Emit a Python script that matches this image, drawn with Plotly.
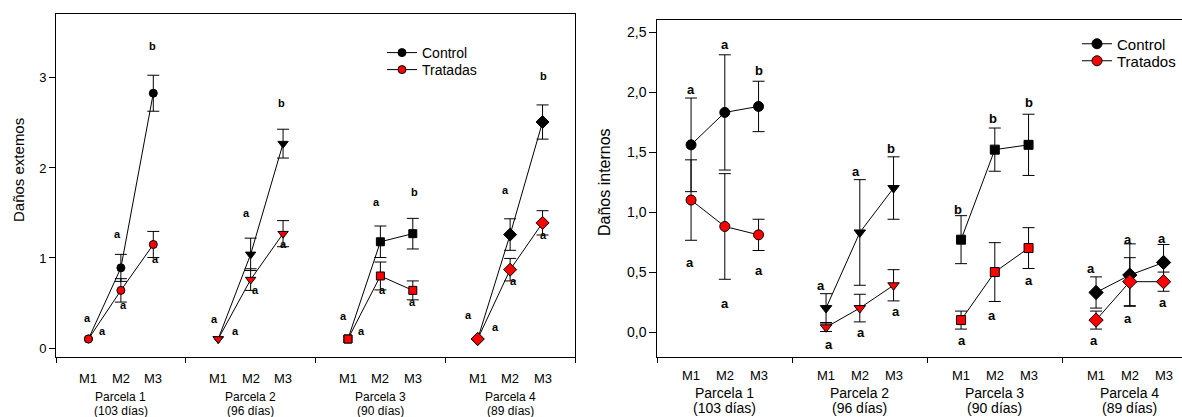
import numpy as np
import plotly.graph_objects as go

nan = np.nan

# ---------------- DATA ----------------
groups = ["Parcela 1", "Parcela 2", "Parcela 3", "Parcela 4"]
group_days = ["(103 días)", "(96 días)", "(90 días)", "(89 días)"]
samples = ["M1", "M2", "M3"]

# Left panel: Daños externos
ext_control = [[0.10, 0.89, 2.83], [0.10, 1.04, 2.27], [0.10, 1.18, 1.27], [0.10, 1.26, 2.51]]
ext_control_err = [[nan, 0.15, 0.20], [nan, 0.18, 0.16], [nan, 0.175, 0.17], [nan, 0.175, 0.19]]
ext_treated = [[0.10, 0.64, 1.15], [0.10, 0.76, 1.27], [0.10, 0.80, 0.64], [0.10, 0.87, 1.39]]
ext_treated_err = [[nan, 0.13, 0.145], [nan, 0.12, 0.145], [nan, 0.155, 0.105], [nan, 0.125, 0.135]]
ext_control_letters = [["a", "a", "b"], ["a", "a", "b"], ["a", "a", "b"], ["a", "a", "b"]]
ext_treated_letters = [["a", "a", "a"], ["a", "a", "a"], ["a", "a", "a"], ["a", "a", "a"]]

# Right panel: Daños internos
int_control = [[1.56, 1.83, 1.88], [0.20, 0.83, 1.20], [0.77, 1.52, 1.56], [0.33, 0.475, 0.58]]
int_control_err = [[0.39, 0.48, 0.21], [0.12, 0.44, 0.26], [0.20, 0.18, 0.255], [0.13, 0.26, 0.15]]
int_treated = [[1.10, 0.88, 0.81], [0.04, 0.20, 0.39], [0.10, 0.50, 0.70], [0.10, 0.42, 0.42]]
int_treated_err = [[0.335, 0.44, 0.13], [0.035, 0.115, 0.13], [0.075, 0.245, 0.17], [0.075, 0.20, 0.08]]
int_control_letters = [["a", "a", "b"], ["a", "a", "b"], ["b", "b", "b"], ["a", "a", "a"]]
int_treated_letters = [["a", "a", "a"], ["a", "a", "a"], ["a", "a", "a"], ["a", "a", "a"]]

left_yticks = [0, 1, 2, 3]
left_yticktext = ["0", "1", "2", "3"]
right_yticks = [0, 0.5, 1.0, 1.5, 2.0, 2.5]
right_yticktext = ["0,0", "0,5", "1,0", "1,5", "2,0", "2,5"]

# ---------------- LAYOUT CONSTANTS ----------------
W, H = 1182, 417
FONT = "Liberation Sans, Arial, sans-serif"
symbols = ["circle", "triangle-down", "square", "diamond"]
left_sizes = [8, 9, 8, 10]
right_sizes = [10, 10, 9, 11]
RED = "#ff0000"

# letter anchor points (data units) for annotations
ext_ctrl_lpos = [[(0.98, 0.33), (1.91, 1.27), (2.99, 3.36)], [(4.88, 0.32), (5.88, 1.50), (6.94, 2.72)],
                 [(8.86, 0.36), (9.89, 1.62), (11.04, 1.73)], [(12.73, 0.37), (13.85, 1.75), (15.02, 3.02)]]
ext_trt_lpos = [[(1.44, 0.19), (2.09, 0.48), (3.07, 0.99)], [(5.53, 0.19), (6.14, 0.64), (7.0, 1.16)],
                [(9.43, 0.19), (10.07, 0.64), (11.0, 0.51)], [(13.55, 0.23), (14.1, 0.74), (15.02, 1.25)]]
int_ctrl_lpos = [[(1.0, 2.02), (2.0, 2.40), (3.0, 2.18)], [(4.84, 0.39), (5.89, 1.34), (6.92, 1.53)],
                 [(8.92, 1.02), (9.96, 1.78), (11.01, 1.91)], [(12.85, 0.53), (13.94, 0.77), (14.96, 0.78)]]
int_trt_lpos = [[(0.97, 0.58), (2.0, 0.24), (3.0, 0.51)], [(5.10, -0.10), (6.04, 0.0), (7.07, 0.17)],
                [(9.04, -0.07), (9.93, 0.14), (11.01, 0.43)], [(12.95, -0.07), (13.96, 0.11), (14.99, 0.25)]]


def xpos(g):
    return [4 * g + 1 + i for i in range(len(samples))]


fig = go.Figure()


def add_series(values, errs, color, sizes, xa, ya, name, legend):
    for g in range(len(groups)):
        fig.add_trace(go.Scatter(
            x=xpos(g), y=values[g], mode="lines+markers",
            xaxis=xa, yaxis=ya,
            line=dict(color="black", width=1),
            marker=dict(symbol=symbols[g], size=sizes[g], color=color,
                        line=dict(color="black", width=1)),
            error_y=dict(type="data", array=np.array(errs[g], dtype=float), symmetric=True,
                         color="black", thickness=1, width=6),
            name=name, legend=legend, showlegend=(g == 0), hoverinfo="skip",
        ))


add_series(ext_control, ext_control_err, "black", left_sizes, "x", "y", "Control", "legend")
add_series(ext_treated, ext_treated_err, RED, left_sizes, "x", "y", "Tratadas", "legend2")
add_series(int_control, int_control_err, "black", right_sizes, "x2", "y2", "Control", "legend3")
add_series(int_treated, int_treated_err, RED, right_sizes, "x2", "y2", "Tratados", "legend4")

ann = []


def add_letters(letters, pos, xr, yr, size):
    for g in range(len(groups)):
        for i in range(len(samples)):
            x, y = pos[g][i]
            ann.append(dict(x=x, y=y, xref=xr, yref=yr, text="<b>%s</b>" % letters[g][i],
                            showarrow=False, font=dict(family=FONT, size=size, color="black"),
                            xanchor="center", yanchor="middle"))


add_letters(ext_control_letters, ext_ctrl_lpos, "x", "y", 11)
add_letters(ext_treated_letters, ext_trt_lpos, "x", "y", 11)
add_letters(int_control_letters, int_ctrl_lpos, "x2", "y2", 13)
add_letters(int_treated_letters, int_trt_lpos, "x2", "y2", 13)


def add_group_labels(xr, y_m, y_p, y_d, msize, psize):
    for g in range(len(groups)):
        for i, s in enumerate(samples):
            ann.append(dict(x=xpos(g)[i], y=(H - y_m) / H, xref=xr, yref="paper", text=s,
                            showarrow=False, font=dict(family=FONT, size=msize, color="black"),
                            xanchor="center", yanchor="middle"))
        ann.append(dict(x=xpos(g)[1], y=(H - y_p) / H, xref=xr, yref="paper", text=groups[g],
                        showarrow=False, font=dict(family=FONT, size=psize, color="black"),
                        xanchor="center", yanchor="middle"))
        ann.append(dict(x=xpos(g)[1], y=(H - y_d) / H, xref=xr, yref="paper", text=group_days[g],
                        showarrow=False, font=dict(family=FONT, size=psize, color="black"),
                        xanchor="center", yanchor="middle"))


add_group_labels("x", 378, 397, 410.5, 13, 12)
add_group_labels("x2", 375.5, 393, 407.5, 13, 14)

# y titles
ann.append(dict(x=18 / W, y=(H - 170) / H, xref="paper", yref="paper", text="Daños extemos",
                textangle=-90, showarrow=False, font=dict(family=FONT, size=15, color="black"),
                xanchor="center", yanchor="middle"))
ann.append(dict(x=605 / W, y=(H - 182) / H, xref="paper", yref="paper", text="Daños internos",
                textangle=-90, showarrow=False, font=dict(family=FONT, size=16, color="black"),
                xanchor="center", yanchor="middle"))

axis_common = dict(showgrid=False, zeroline=False, showline=True, linecolor="black", linewidth=1,
                   ticks="outside", tickcolor="black", tickwidth=1)


def leg(x_px, y_px, size):
    return dict(x=x_px / W, y=(H - y_px) / H, xanchor="left", yanchor="middle",
                bgcolor="rgba(0,0,0,0)", borderwidth=0,
                font=dict(family=FONT, size=size, color="black"))


fig.update_layout(
    width=W, height=H, margin=dict(l=0, r=0, t=0, b=0),
    paper_bgcolor="white", plot_bgcolor="white",
    font=dict(family=FONT, color="black"),
    annotations=ann,
    xaxis=dict(domain=[56 / W, 575 / W], range=[0, 16], tickvals=[0, 4, 8, 12, 16],
               showticklabels=False, ticklen=5, mirror=True, anchor="y", **axis_common),
    yaxis=dict(domain=[(H - 357) / H, (H - 14) / H], range=[-0.1, 3.71], tickvals=left_yticks,
               ticktext=left_yticktext, ticklen=6, mirror=True, anchor="x",
               tickfont=dict(family=FONT, size=13, color="black"), **axis_common),
    xaxis2=dict(domain=[657.3 / W, 1.0], range=[0, (W - 657.3) / 33.75], tickvals=[0, 4, 8, 12, 16],
                showticklabels=False, ticklen=5, mirror=True, anchor="y2", **axis_common),
    yaxis2=dict(domain=[(H - 356.7) / H, (H - 20) / H], range=[-0.205, 2.6], tickvals=right_yticks,
                ticktext=right_yticktext, ticklen=7, mirror=False, anchor="x2",
                tickfont=dict(family=FONT, size=14, color="black"), **axis_common),
    legend=leg(382, 53, 14),
    legend2=leg(382, 70, 14),
    legend3=leg(1077, 44, 15),
    legend4=leg(1077, 61, 15),
)

fig.write_html("out.html", config={"displayModeBar": False},
               post_script="document.body.style.margin='0';document.body.style.overflow='hidden';")
